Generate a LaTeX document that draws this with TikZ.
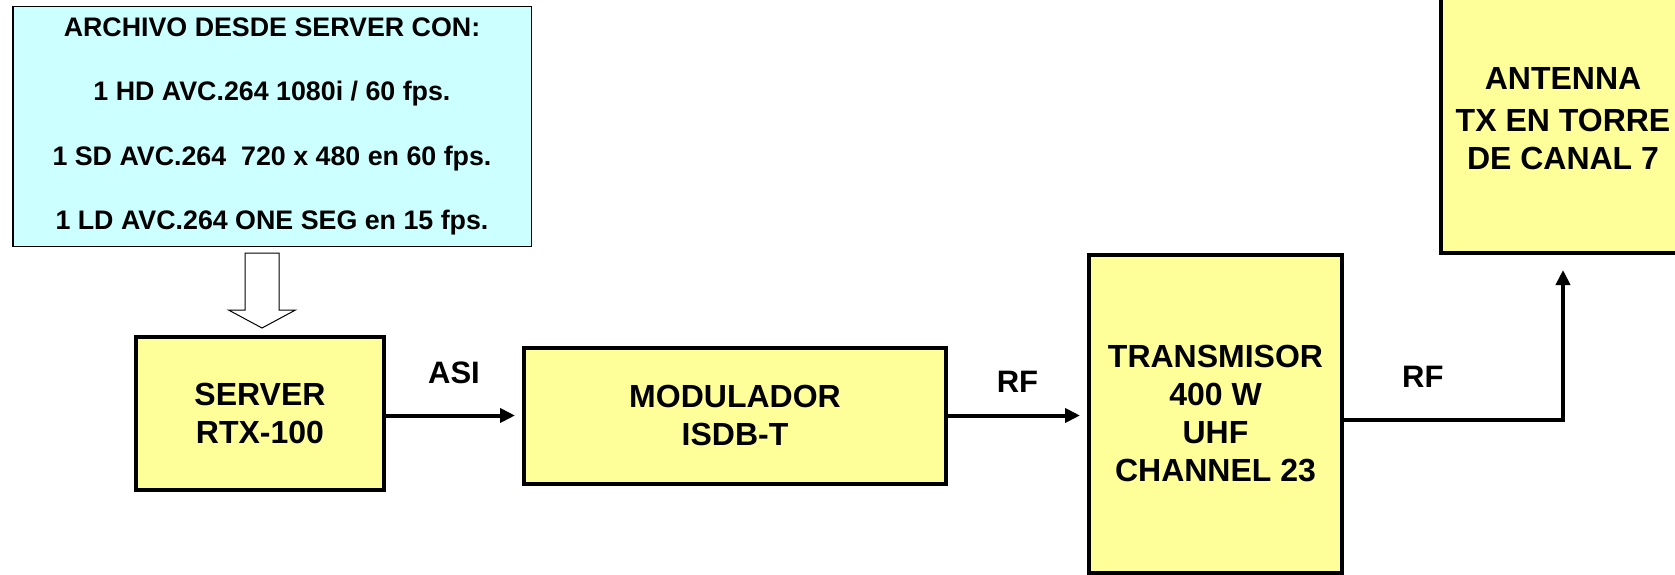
\documentclass[tikz,border=0pt]{standalone}
\usepackage{fontspec}
\setmainfont{Liberation Sans}
\usepackage{xcolor}
\usetikzlibrary{positioning,arrows.meta,calc}
\definecolor{blockyellow}{HTML}{FFFF99}
\definecolor{filecyan}{HTML}{CCFFFF}

\begin{document}
\begin{tikzpicture}[x=1pt, y=1pt,
  block/.style={draw, line width=4pt, fill=blockyellow, align=center, inner sep=0pt, font=\fontsize{32}{38}\selectfont\bfseries},
  infobox/.style={draw, line width=1.5pt, fill=filecyan, align=center, inner sep=0pt, minimum width=518.5pt, minimum height=239.5pt, font=\fontsize{26.8}{64.5}\selectfont\bfseries},
  lbl/.style={font=\fontsize{31}{34}\selectfont\bfseries},
  arr/.style={-{Triangle[length=15pt, width=14pt]}, line width=4pt, shorten >=7pt}]
\useasboundingbox (0,0) rectangle (1675,-575);
\node[infobox] (info) at (272,-126.5) {ARCHIVO DESDE SERVER CON:\\1 HD AVC.264 1080i / 60 fps.\\1 SD AVC.264\ \ 720 x 480 en 60 fps.\\1 LD AVC.264 ONE SEG en 15 fps.};
\node[block, minimum width=248pt, minimum height=153pt, below=88pt of info, xshift=-12pt] (server) {SERVER\\RTX-100};
\node[block, minimum width=422pt, minimum height=136pt, right=136pt of server, yshift=-2pt] (mod) {MODULADOR\\ISDB-T};
\node[block, minimum width=253pt, minimum height=318pt, right=139pt of mod, yshift=1.5pt] (tx) {TRANSMISOR\\400 W\\UHF\\CHANNEL 23};
\node[block, minimum width=244pt, minimum height=268pt, above right=-2pt and 95pt of tx, anchor=south west] (ant) {ANTENNA\\[4pt]TX EN TORRE\\DE CANAL 7};
% hollow arrow from file box to server
\draw[line width=1pt, fill=white] ($(info.south)+(-27,-6)$) -- ++(34,0) -- ++(0,-57) -- ++(16.5,0) -- ++(-33.5,-18) -- ++(-33.5,18) -- ++(16.5,0) -- cycle;
\draw[arr] (server.east |- mod.west) -- (mod.west) node[lbl, midway, above=26pt] (asi) {ASI};
\draw[arr] (mod.east) -- (mod.east -| tx.west) node[lbl, midway, above=18pt] (rf1) {RF};
\draw[arr, shorten >=15pt] ([yshift=-6pt]tx.east) -| (ant.south) node[lbl, pos=0.18, above=27pt] (rf2) {RF};
\end{tikzpicture}
\end{document}
